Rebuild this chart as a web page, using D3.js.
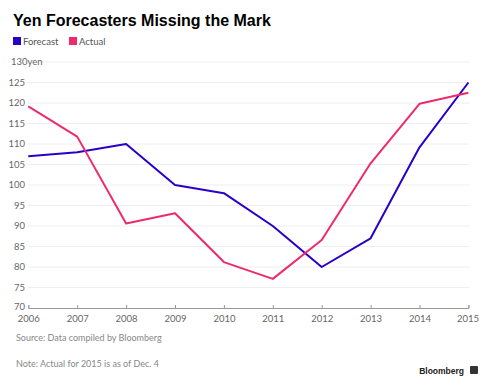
<!DOCTYPE html>
<html>
<head>
<meta charset="utf-8">
<script src="https://cdn.jsdelivr.net/npm/d3@7"></script>
<style>
  body { margin: 0; background: #fff; }
  text { font-family: Lato, "Open Sans", sans-serif; }
</style>
</head>
<body>
<script>
// Chart data
var years = [2006, 2007, 2008, 2009, 2010, 2011, 2012, 2013, 2014, 2015];
var forecast = [107, 108, 110, 100, 98, 90, 80, 87, 109.2, 125];
var actual = [119.2, 111.8, 90.6, 93.1, 81.2, 77.1, 86.6, 105.3, 119.8, 122.5];
var yTicks = [70, 75, 80, 85, 90, 95, 100, 105, 110, 115, 120, 125, 130];
var seriesNames = ["Forecast", "Actual"];
var seriesColors = ["#2a00c8", "#ee2a6e"];

var w = 488, h = 387;

var svg = d3.select("body").append("svg")
    .attr("width", w)
    .attr("height", h);

var xScale = d3.scaleLinear()
    .domain([2006, 2015])
    .range([28.3, 468.4]);

var yScale = d3.scaleLinear()
    .domain([70, 130])
    .range([308, 62]);

// Title
svg.append("text")
    .attr("x", 13)
    .attr("y", 26)
    .style("font-family", "'Liberation Sans', Arial, sans-serif")
    .attr("font-weight", "bold")
    .attr("font-size", "16px")
    .attr("fill", "#000")
    .text("Yen Forecasters Missing the Mark");

// Legend
var legendX = [13, 69];
var legend = svg.selectAll("g.legend")
    .data(seriesNames)
    .enter().append("g")
    .attr("class", "legend")
    .attr("transform", function(d, i) { return "translate(" + legendX[i] + ",37)"; });

legend.append("rect")
    .attr("width", 8)
    .attr("height", 8)
    .attr("fill", function(d, i) { return seriesColors[i]; });

legend.append("text")
    .attr("x", 10)
    .attr("y", 8)
    .attr("font-size", "9.5px")
    .attr("fill", "#555")
    .text(function(d) { return d; });

// Gridlines (skip the bottom one, that's the axis)
svg.selectAll("line.grid")
    .data(yTicks.slice(1))
    .enter().append("line")
    .attr("class", "grid")
    .attr("x1", function(d) { return d == 130 ? 40 : 28; })
    .attr("x2", 469)
    .attr("y1", function(d) { return yScale(d); })
    .attr("y2", function(d) { return yScale(d); })
    .attr("stroke", "#eeeeee")
    .attr("stroke-width", 1);

// Y labels
svg.selectAll("text.ylabel")
    .data(yTicks)
    .enter().append("text")
    .attr("class", "ylabel")
    .attr("x", function(d) { return d == 130 ? 11 : 25; })
    .attr("y", function(d) { return d == 70 ? yScale(d) - 1 : yScale(d); })
    .attr("dy", "0.35em")
    .attr("text-anchor", function(d) { return d == 130 ? "start" : "end"; })
    .attr("font-size", "9.5px")
    .attr("fill", "#666")
    .text(function(d) { return d == 130 ? d + "yen" : d; });

// X axis
var xAxis = d3.axisBottom(xScale)
    .tickValues(years)
    .tickFormat(d3.format("d"))
    .tickSize(-3)
    .tickPadding(7);

var gx = svg.append("g")
    .attr("transform", "translate(0," + yScale(70) + ")")
    .call(xAxis);

gx.select(".domain").attr("stroke", "#999");
gx.selectAll(".tick line").attr("stroke", "#999");
gx.selectAll(".tick text")
    .attr("font-size", "9.5px")
    .attr("fill", "#666")
    .style("font-family", "Lato, sans-serif")
    .attr("dx", function(d) { return d == 2015 ? -1 : 0; });

// Lines
var line = d3.line()
    .x(function(d, i) { return xScale(years[i]); })
    .y(function(d) { return yScale(d); });

svg.selectAll("path.series")
    .data([forecast, actual])
    .enter().append("path")
    .attr("class", "series")
    .attr("d", line)
    .attr("fill", "none")
    .attr("stroke", function(d, i) { return seriesColors[i]; })
    .attr("stroke-width", 2)
    .attr("stroke-linejoin", "round");

// Footer
svg.append("text")
    .attr("x", 16)
    .attr("y", 341)
    .attr("font-size", "9px")
    .attr("fill", "#888")
    .text("Source: Data compiled by Bloomberg");

svg.append("text")
    .attr("x", 16)
    .attr("y", 367)
    .attr("font-size", "9px")
    .attr("fill", "#888")
    .text("Note: Actual for 2015 is as of Dec. 4");

svg.append("text")
    .attr("x", 464)
    .attr("y", 374)
    .attr("text-anchor", "end")
    .style("font-family", "'Liberation Sans', Arial, sans-serif")
    .attr("font-weight", "bold")
    .attr("font-size", "8.5px")
    .attr("fill", "#222")
    .text("Bloomberg");

// little logo box
svg.append("rect")
    .attr("x", 470)
    .attr("y", 366)
    .attr("width", 8)
    .attr("height", 8)
    .attr("rx", 1)
    .attr("fill", "#333");
</script>
</body>
</html>
